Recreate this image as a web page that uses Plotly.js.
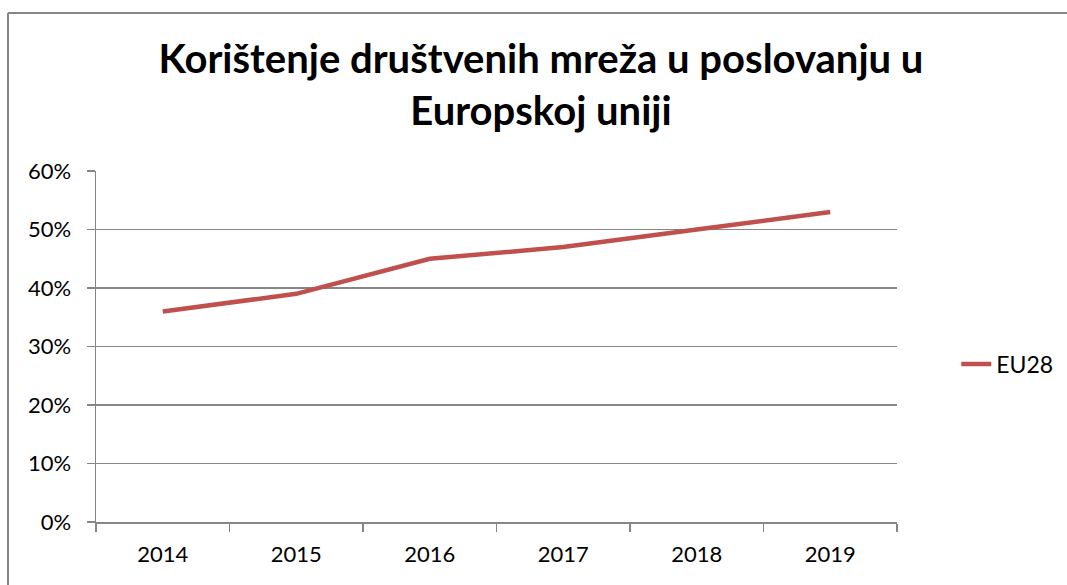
<!DOCTYPE html>
<html>
<head>
<meta charset="utf-8">
<script src="https://cdn.plot.ly/plotly-3.0.1.min.js"></script>
<style>
html,body{margin:0;padding:0;background:#fff;}
#chart{width:1067px;height:585px;}
</style>
</head>
<body>
<div id="chart"></div>
<script>
const years = ['2014', '2015', '2016', '2017', '2018', '2019'];
const eu28 = [0.36, 0.39, 0.45, 0.47, 0.50, 0.53];
const seriesName = 'EU28';
const titleText = 'Korištenje društvenih mreža u poslovanju u<br>Europskoj uniji';

const gray = '#868686';
const font = 'Lato, "Open Sans", sans-serif';

const trace = {
  x: years,
  y: eu28,
  type: 'scatter',
  mode: 'lines',
  name: seriesName,
  line: {color: '#C0504D', width: 4.5}
};

const layout = {
  width: 1067,
  height: 585,
  margin: {l: 96, r: 170, t: 171, b: 63, autoexpand: false},
  paper_bgcolor: '#fff',
  plot_bgcolor: '#fff',
  font: {family: font, color: '#000', size: 22},
  title: {
    text: titleText,
    font: {family: font, size: 40, color: '#000', weight: 'bold'},
    x: 0.507, xref: 'container', xanchor: 'center',
    y: 0.875, yref: 'container', yanchor: 'top'
  },
  showlegend: true,
  legend: {
    x: 1.074, xanchor: 'left', y: 0.45, yanchor: 'middle',
    font: {family: font, size: 23, color: '#000'},
    bgcolor: 'rgba(0,0,0,0)'
  },
  xaxis: {
    type: 'category',
    range: [-0.5, 5.5],
    showgrid: false,
    showline: true, linecolor: gray, linewidth: 1.5,
    ticks: 'outside', tickson: 'boundaries', ticklen: 8, tickcolor: gray, tickwidth: 1.5,
    ticklabelstandoff: 12,
    zeroline: false,
    fixedrange: true
  },
  yaxis: {
    range: [0, 0.6],
    dtick: 0.1,
    tickformat: '.0%',
    showgrid: true, gridcolor: gray, gridwidth: 1.5,
    showline: true, linecolor: gray, linewidth: 1.5,
    ticks: 'outside', ticklen: 8, tickcolor: gray, tickwidth: 1.5,
    ticklabelstandoff: 11,
    zeroline: false,
    fixedrange: true
  },
  shapes: [
    {type: 'line', xref: 'paper', yref: 'paper', x0: (8-96)/801, x1: (1067-96)/801, y0: (522-13)/351, y1: (522-13)/351, line: {color: gray, width: 2}},
    {type: 'line', xref: 'paper', yref: 'paper', x0: (8-96)/801, x1: (8-96)/801, y0: (522-13)/351, y1: (522-590)/351, line: {color: gray, width: 2}}
  ]
};

Plotly.newPlot('chart', [trace], layout, {displayModeBar: false, staticPlot: true});
</script>
</body>
</html>
